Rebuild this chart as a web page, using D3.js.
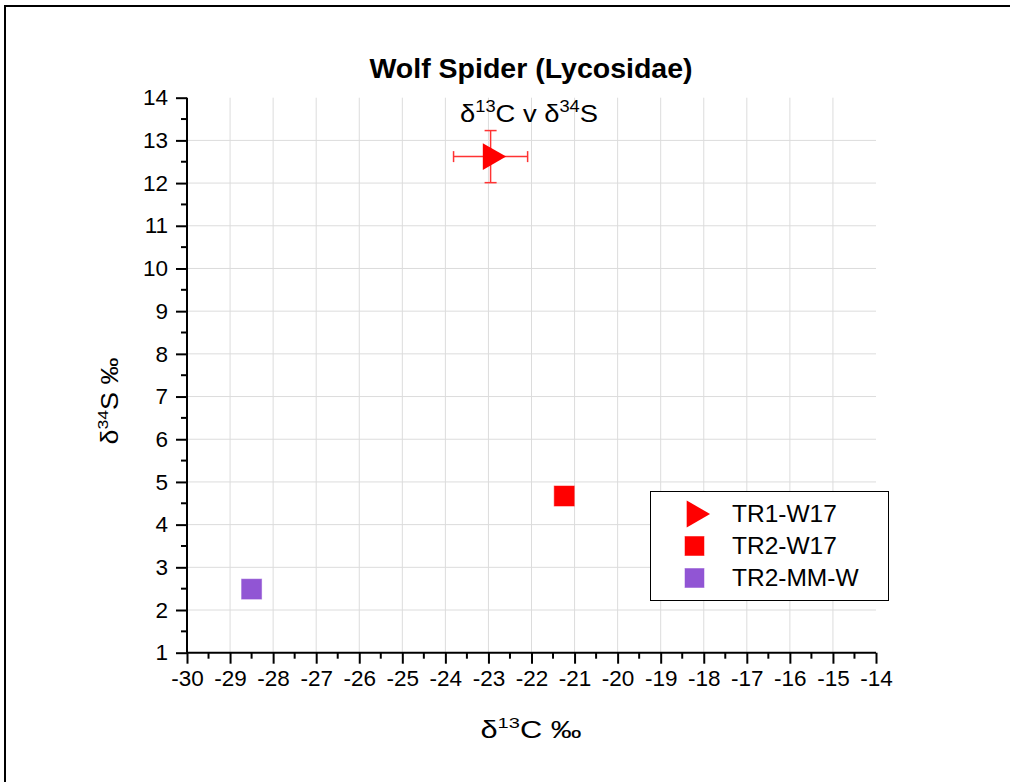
<!DOCTYPE html>
<html><head><meta charset="utf-8">
<script src="https://cdn.jsdelivr.net/npm/d3@7"></script>
<style>
html,body{margin:0;padding:0;background:#fff;}
text{font-family:Arial,"Liberation Sans",sans-serif;fill:#000;}
</style></head>
<body>
<script>
const seriesNames = ["TR1-W17", "TR2-W17", "TR2-MM-W"];
const seriesX = [-22.95, -21.24, -28.5];
const seriesY = [12.62, 4.67, 2.49];
const seriesXErr = [0.86, 0, 0];
const seriesYErr = [0.61, 0, 0];
const seriesShape = ["triangle", "square", "square"];
const seriesColor = ["#ff0000", "#ff0000", "#9155d4"];
const xTicks = d3.range(-30, -13, 1);
const yTicks = d3.range(1, 15, 1);
const xMinor = d3.range(-29.5, -14, 1);
const yMinor = d3.range(1.5, 14, 1);

const W = 1010, H = 782;
const svg = d3.select("body").append("svg").attr("width", W).attr("height", H);
svg.append("rect").attr("width", W).attr("height", H).attr("fill", "#fff");
svg.append("rect").attr("x", 5).attr("y", 6).attr("width", W + 10).attr("height", H + 10)
  .attr("fill", "none").attr("stroke", "#000").attr("stroke-width", 2);

const L = 187, R = 876, T = 97.7, B = 652.7;
const x = d3.scaleLinear().domain([-30, -14]).range([L, R]);
const y = d3.scaleLinear().domain([1, 14]).range([B, T]);

// grid
const g = svg.append("g");
g.selectAll(".gx").data(xTicks.filter(d => d > -30 && d < -14)).join("line")
  .attr("x1", d => x(d)).attr("x2", d => x(d)).attr("y1", T).attr("y2", B)
  .attr("stroke", "#dcdcdc").attr("stroke-width", 1);
g.selectAll(".gy").data(yTicks.filter(d => d > 1 && d < 14)).join("line")
  .attr("y1", d => y(d)).attr("y2", d => y(d)).attr("x1", L).attr("x2", R)
  .attr("stroke", "#dcdcdc").attr("stroke-width", 1);

// axes
const fmt = d => String(d);
const xAxis = d3.axisBottom(x).tickValues(xTicks).tickSize(11).tickPadding(6).tickFormat(fmt);
const yAxis = d3.axisLeft(y).tickValues(yTicks).tickSize(11).tickPadding(8).tickFormat(fmt);
const gx = svg.append("g").attr("transform", `translate(0,${B})`).call(xAxis);
const gy = svg.append("g").attr("transform", `translate(${L},0)`).call(yAxis);
[gx, gy].forEach(a => {
  a.select(".domain").attr("stroke", "#000").attr("stroke-width", 2);
  a.selectAll(".tick line").attr("stroke", "#000").attr("stroke-width", 2);
  a.selectAll(".tick text").attr("font-size", 22.5).attr("font-family", "Arial, 'Liberation Sans', sans-serif").attr("fill", "#000");
});
gx.select(".domain").attr("d", `M${L},0H${R}`);
gy.select(".domain").attr("d", `M0,${B}V${T}`);
gx.selectAll(".tick text").attr("dy", "0.71em");
svg.append("g").selectAll("line").data(xMinor).join("line")
  .attr("x1", d => x(d)).attr("x2", d => x(d)).attr("y1", B).attr("y2", B + 6)
  .attr("stroke", "#000").attr("stroke-width", 2);
svg.append("g").selectAll("line").data(yMinor).join("line")
  .attr("y1", d => y(d)).attr("y2", d => y(d)).attr("x1", L).attr("x2", L - 6)
  .attr("stroke", "#000").attr("stroke-width", 2);

// title
svg.append("text").attr("x", 531).attr("y", 78).attr("text-anchor", "middle")
  .attr("font-size", 28.5).attr("font-weight", "bold").text("Wolf Spider (Lycosidae)");
const sub = svg.append("text").attr("x", 529).attr("y", 122).attr("text-anchor", "middle").attr("font-size", 24)
  .attr("textLength", 138).attr("lengthAdjust", "spacingAndGlyphs");
sub.append("tspan").text("δ");
sub.append("tspan").attr("font-size", 16).attr("dy", -10).text("13");
sub.append("tspan").attr("dy", 10).text("C v δ");
sub.append("tspan").attr("font-size", 16).attr("dy", -10).text("34");
sub.append("tspan").attr("dy", 10).text("S");

// axis labels
const xl = svg.append("text").attr("x", 531).attr("y", 738).attr("text-anchor", "middle").attr("font-size", 23)
  .attr("textLength", 101).attr("lengthAdjust", "spacingAndGlyphs");
xl.append("tspan").text("δ");
xl.append("tspan").attr("font-size", 15).attr("dy", -10).text("13");
xl.append("tspan").attr("dy", 10).text("C ‰");
const yl = svg.append("text").attr("transform", "translate(118,401) rotate(-90)").attr("text-anchor", "middle").attr("font-size", 23)
  .attr("textLength", 87).attr("lengthAdjust", "spacingAndGlyphs");
yl.append("tspan").text("δ");
yl.append("tspan").attr("font-size", 15).attr("dy", -10).text("34");
yl.append("tspan").attr("dy", 10).text("S ‰");

// data
const idx = d3.range(seriesNames.length);
const tri = d3.symbol().type(d3.symbolTriangle).size(315);
function drawSymbol(sel, i, cx, cy, sq) {
  if (seriesShape[i] === "triangle") {
    sel.append("path").attr("d", tri()).attr("transform", `translate(${cx},${cy}) rotate(90)`)
      .attr("fill", seriesColor[i]);
  } else {
    sel.append("rect").attr("x", cx - sq / 2).attr("y", cy - sq / 2).attr("width", sq).attr("height", sq)
      .attr("fill", seriesColor[i]).attr("stroke", seriesColor[i]).attr("stroke-opacity", 0.5).attr("stroke-width", 1);
  }
}
const eg = svg.append("g").attr("stroke", "#ff3333").attr("stroke-width", 1.5);
idx.forEach(i => {
  const cx = x(seriesX[i]), cy = y(seriesY[i]);
  if (seriesXErr[i] > 0) {
    const x0 = x(seriesX[i] - seriesXErr[i]), x1 = x(seriesX[i] + seriesXErr[i]);
    eg.append("line").attr("x1", x0).attr("x2", x1).attr("y1", cy).attr("y2", cy);
    eg.append("line").attr("x1", x0).attr("x2", x0).attr("y1", cy - 5.5).attr("y2", cy + 5.5);
    eg.append("line").attr("x1", x1).attr("x2", x1).attr("y1", cy - 5.5).attr("y2", cy + 5.5);
  }
  if (seriesYErr[i] > 0) {
    const y0 = y(seriesY[i] - seriesYErr[i]), y1 = y(seriesY[i] + seriesYErr[i]);
    eg.append("line").attr("y1", y0).attr("y2", y1).attr("x1", cx).attr("x2", cx);
    eg.append("line").attr("y1", y0).attr("y2", y0).attr("x1", cx - 6).attr("x2", cx + 6);
    eg.append("line").attr("y1", y1).attr("y2", y1).attr("x1", cx - 6).attr("x2", cx + 6);
  }
});
const mg = svg.append("g");
idx.forEach(i => drawSymbol(mg, i, x(seriesX[i]), y(seriesY[i]), 20));

// legend
const lg = svg.append("g");
lg.append("rect").attr("x", 650.5).attr("y", 491.5).attr("width", 238).attr("height", 109)
  .attr("fill", "#fff").attr("stroke", "#000").attr("stroke-width", 1);
idx.forEach(i => {
  const cy = 514 + i * 32;
  drawSymbol(lg, i, 694.5, cy, 19);
  lg.append("text").attr("x", 732).attr("y", cy + 8).attr("font-size", 24.5).text(seriesNames[i]);
});
</script>
</body></html>
